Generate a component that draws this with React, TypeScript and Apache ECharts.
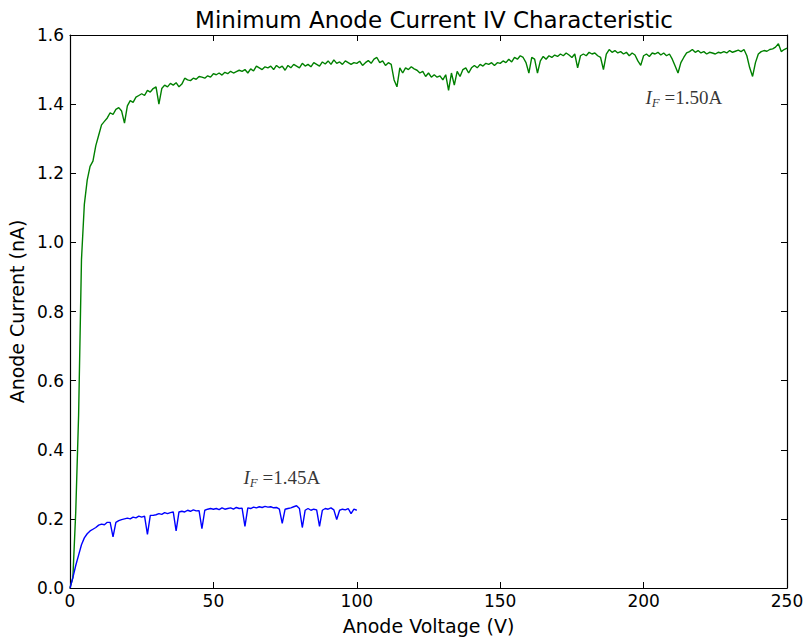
import React, { useEffect, useRef } from "react";
import * as echarts from "echarts";

// Anode voltage (V) grid used for each series (1 V steps)
const blueStartV = 0;
const greenStartV = 0;

// I_F = 1.45 A : anode current (nA) at V = 0,1,2,...,100
const blueCurrent = [
  0, 0.03, 0.065, 0.095, 0.125, 0.145, 0.157, 0.165, 0.17, 0.175,
  0.182, 0.185, 0.183, 0.19, 0.19, 0.148, 0.19, 0.195, 0.198, 0.2,
  0.202, 0.2, 0.205, 0.203, 0.208, 0.205, 0.208, 0.155, 0.21, 0.21,
  0.212, 0.215, 0.213, 0.218, 0.215, 0.218, 0.22, 0.165, 0.22, 0.222,
  0.22, 0.225, 0.222, 0.226, 0.223, 0.224, 0.172, 0.225, 0.228, 0.23,
  0.228, 0.23, 0.227, 0.232, 0.228, 0.23, 0.232, 0.228, 0.233, 0.23,
  0.231, 0.178, 0.232, 0.23, 0.234, 0.232, 0.235, 0.233, 0.236, 0.234,
  0.235, 0.232, 0.233, 0.228, 0.187, 0.228, 0.23, 0.232, 0.235, 0.238,
  0.23, 0.175, 0.225, 0.23, 0.225, 0.228, 0.226, 0.178, 0.225, 0.23,
  0.228, 0.232, 0.226, 0.198, 0.225, 0.228, 0.226, 0.23, 0.215, 0.228,
  0.225,
];

// I_F = 1.50 A : anode current (nA) at V = 0,1,2,...,250
const greenCurrent = [
  0, 0.03, 0.22, 0.5, 0.95, 1.11, 1.18, 1.22, 1.235, 1.28,
  1.31, 1.34, 1.35, 1.36, 1.375, 1.37, 1.385, 1.39, 1.38, 1.345,
  1.395, 1.41, 1.405, 1.42, 1.425, 1.43, 1.425, 1.44, 1.435, 1.445,
  1.45, 1.4, 1.445, 1.455, 1.45, 1.46, 1.455, 1.462, 1.45, 1.458,
  1.475, 1.47, 1.468, 1.475, 1.472, 1.48, 1.478, 1.475, 1.482, 1.478,
  1.488, 1.485, 1.49, 1.484, 1.492, 1.488, 1.495, 1.49, 1.494, 1.498,
  1.495, 1.5, 1.49, 1.502, 1.496, 1.51, 1.505, 1.5, 1.508, 1.505,
  1.51, 1.5, 1.512, 1.505, 1.51, 1.498, 1.512, 1.505, 1.515, 1.51,
  1.505, 1.518, 1.51, 1.515, 1.508, 1.52, 1.515, 1.51, 1.522, 1.516,
  1.525, 1.515, 1.528, 1.518, 1.522, 1.515, 1.525, 1.52, 1.515, 1.52,
  1.518, 1.524, 1.512, 1.52, 1.526, 1.518, 1.53, 1.535, 1.52, 1.525,
  1.512, 1.52, 1.515, 1.47, 1.45, 1.505, 1.49, 1.505, 1.5, 1.508,
  1.502, 1.498, 1.49, 1.495, 1.48, 1.49, 1.478, 1.485, 1.478, 1.482,
  1.47, 1.485, 1.44, 1.49, 1.455, 1.495, 1.48, 1.5, 1.505, 1.49,
  1.505, 1.512, 1.505, 1.515, 1.51, 1.518, 1.515, 1.52, 1.512, 1.52,
  1.518, 1.525, 1.52, 1.53, 1.522, 1.535, 1.53, 1.54, 1.535, 1.52,
  1.49, 1.535, 1.53, 1.49, 1.525, 1.538, 1.53, 1.54, 1.535, 1.542,
  1.538, 1.545, 1.54, 1.548, 1.542, 1.535, 1.545, 1.505, 1.54, 1.545,
  1.54, 1.55, 1.545, 1.548, 1.54, 1.535, 1.5, 1.545, 1.558, 1.55,
  1.555, 1.548, 1.552, 1.545, 1.55, 1.54, 1.548, 1.542, 1.525, 1.512,
  1.54, 1.545, 1.538, 1.548, 1.545, 1.55, 1.542, 1.548, 1.54, 1.545,
  1.53, 1.51, 1.49, 1.52, 1.535, 1.548, 1.552, 1.558, 1.55, 1.555,
  1.548, 1.552, 1.545, 1.55, 1.548, 1.545, 1.55, 1.548, 1.552, 1.548,
  1.555, 1.55, 1.553, 1.556, 1.552, 1.558, 1.54, 1.505, 1.48, 1.52,
  1.545, 1.552, 1.555, 1.553, 1.558, 1.56, 1.565, 1.575, 1.552, 1.558,
  1.562,
];

// Annotation anchors (left edge of text) in data coordinates
const labels = [
  { text: "1.50A", v: 200.5, i: 1.418 },
  { text: "1.45A", v: 60.3, i: 0.321 },
];

const xTicks = { min: 0, max: 250, interval: 50 };
const yTicks = { min: 0, max: 1.6, interval: 0.2 };

const SANS = "DejaVu Sans";
const SERIF = "Liberation Serif";

export default function App() {
  const ref = useRef<HTMLDivElement>(null);
  useEffect(() => {
    if (!ref.current) return;
    const chart = echarts.init(ref.current, null, { renderer: "svg" });
    const blueData = blueCurrent.map((c, k) => [blueStartV + k, c]);
    const greenData = greenCurrent.map((c, k) => [greenStartV + k, c]);
    const frameAxis = {
      axisLine: { show: true, onZero: false, lineStyle: { color: "#000", width: 1.2 } },
      axisTick: { show: true, inside: true, length: 6, lineStyle: { color: "#000" } },
      splitLine: { show: false },
    };
    chart.setOption({
      animation: false,
      backgroundColor: "#fff",
      title: {
        text: "Minimum Anode Current IV Characteristic",
        left: 429,
        textAlign: "center",
        top: 3,
        textStyle: { fontFamily: SANS, fontWeight: "normal", fontSize: 23, color: "#000" },
      },
      grid: { left: 70, right: 17, top: 35, bottom: 51, outerBoundsMode: "none", containLabel: false },
      xAxis: [
        {
          type: "value",
          ...xTicks,
          ...frameAxis,
          position: "bottom",
          name: "Anode Voltage (V)",
          nameLocation: "middle",
          nameGap: 28,
          nameTextStyle: { fontFamily: SANS, fontSize: 19, color: "#000" },
          axisLabel: { fontFamily: SANS, fontSize: 17, color: "#000", margin: 4 },
        },
        {
          type: "value",
          ...xTicks,
          ...frameAxis,
          position: "top",
          axisLabel: { show: false },
        },
      ],
      yAxis: [
        {
          type: "value",
          ...yTicks,
          ...frameAxis,
          position: "left",
          name: "Anode Current (nA)",
          nameLocation: "middle",
          nameGap: 43,
          nameTextStyle: { fontFamily: SANS, fontSize: 19, color: "#000" },
          axisLabel: {
            fontFamily: SANS,
            fontSize: 17,
            color: "#000",
            margin: 6,
            formatter: (v: number) => v.toFixed(1),
          },
        },
        {
          type: "value",
          ...yTicks,
          ...frameAxis,
          position: "right",
          axisLabel: { show: false },
        },
      ],
      series: [
        {
          type: "line",
          data: greenData,
          showSymbol: false,
          lineStyle: { color: "#008000", width: 1.4 },
          itemStyle: { color: "#008000" },
          z: 2,
        },
        {
          type: "line",
          data: blueData,
          showSymbol: false,
          lineStyle: { color: "#0000ff", width: 1.4 },
          itemStyle: { color: "#0000ff" },
          z: 3,
        },
        {
          type: "scatter",
          data: labels.map((l) => ({ value: [l.v, l.i], name: l.text })),
          symbolSize: 1,
          itemStyle: { color: "rgba(0,0,0,0)" },
          label: {
            show: true,
            position: "right",
            distance: 0,
            formatter: (p: any) => `{i|I}{s|F}{n| =${p.name}}`,
            rich: {
              i: { fontFamily: SERIF, fontStyle: "italic", fontSize: 19, color: "#000" },
              s: {
                fontFamily: SERIF,
                fontStyle: "italic",
                fontSize: 13,
                color: "#000",
                padding: [10, 0, 0, 0],
              },
              n: { fontFamily: SERIF, fontSize: 19, color: "#000" },
            },
          },
          z: 5,
        },
      ],
    });
    return () => chart.dispose();
  }, []);
  return (
    <div
      ref={ref}
      style={{ position: "fixed", left: 0, top: 0, width: 804, height: 639, background: "#fff" }}
    />
  );
}
